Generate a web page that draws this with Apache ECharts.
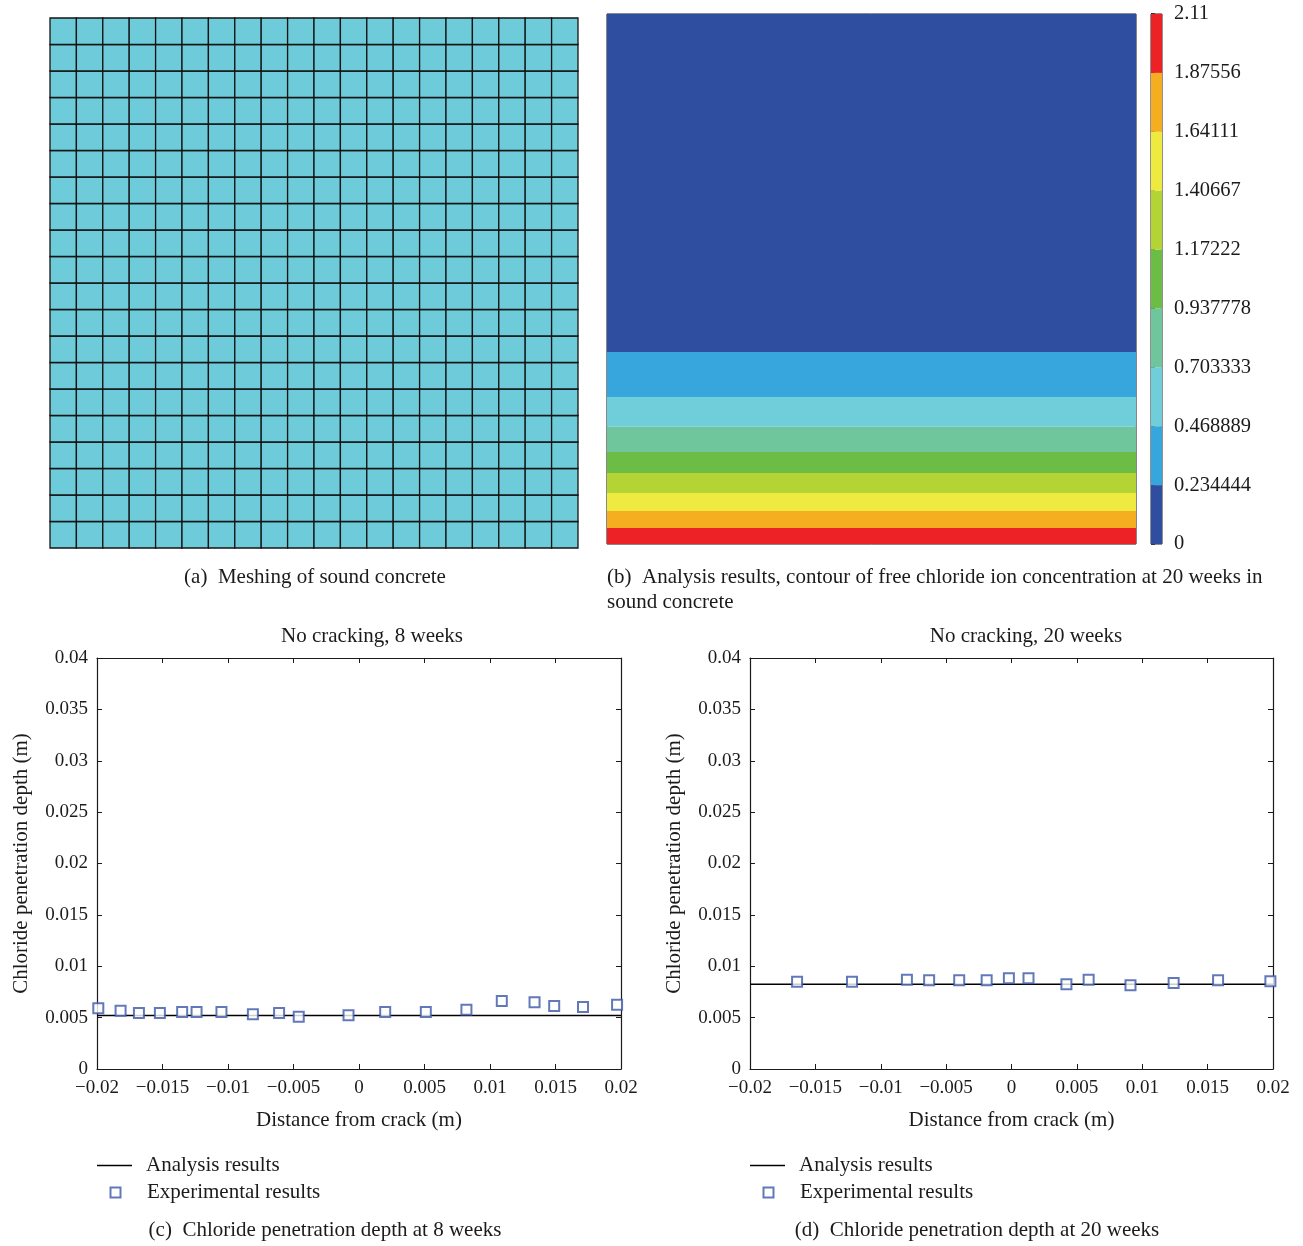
<!DOCTYPE html>
<html>
<head>
<meta charset="utf-8">
<title>Chloride penetration in sound concrete</title>
<script src="https://cdn.jsdelivr.net/npm/echarts@6/dist/echarts.min.js"></script>
<style>
  html, body { margin: 0; padding: 0; background: #ffffff; }
  #chart { width: 1303px; height: 1246px; }
</style>
</head>
<body>
<div id="chart"></div>
<script>
// ---- (a) finite element mesh: 20 x 20 square elements ----
const meshCols = 20;
const meshRows = 20;

// ---- (b) free chloride contour at 20 weeks ----
// contour level boundaries shown on the colour bar
const contourLevels = ['0', '0.234444', '0.468889', '0.703333', '0.937778',
  '1.17222', '1.40667', '1.64111', '1.87556', '2.11'];
const contourColors = ['#2f4ea0', '#37a6dd', '#70cdda', '#6fc69d', '#6cbd45',
  '#b4d334', '#eeea40', '#f5ae1f', '#ec2227'];
// depth (in element widths, measured from the exposed bottom face) where each band ends,
// listed from the highest concentration band (surface) to the lowest
const bandTopDepth = [0.60, 1.25, 1.92, 2.68, 3.47, 4.42, 5.55, 7.25, 20];
const bandLevel = [8, 7, 6, 5, 4, 3, 2, 1, 0];

// ---- (c) no cracking, 8 weeks ----
const analysis8 = [[-0.02, 0.0052], [0.02, 0.0052]];
const experiment8X = [-0.0199, -0.0182, -0.0168, -0.0152, -0.0135, -0.0124, -0.0105,
  -0.0081, -0.0061, -0.0046, -0.0008, 0.0020, 0.0051, 0.0082, 0.0109, 0.0134,
  0.0149, 0.0171, 0.0197];
const experiment8Y = [0.00591, 0.00567, 0.00545, 0.00545, 0.00555, 0.00555, 0.00555,
  0.00532, 0.00545, 0.00509, 0.00523, 0.00555, 0.00555, 0.00577, 0.00662, 0.00649,
  0.00613, 0.00603, 0.00626];

// ---- (d) no cracking, 20 weeks ----
const analysis20 = [[-0.02, 0.00824], [0.02, 0.00824]];
const experiment20X = [-0.0164, -0.0122, -0.0080, -0.0063, -0.0040, -0.0019, -0.0002,
  0.0013, 0.0042, 0.0059, 0.0091, 0.0124, 0.0158, 0.0198];
const experiment20Y = [0.00850, 0.00850, 0.00869, 0.00863, 0.00863, 0.00863, 0.00883,
  0.00883, 0.00824, 0.00869, 0.00815, 0.00837, 0.00863, 0.00854];

// axis ticks for the penetration plots
const distanceTicks = { min: -0.02, max: 0.02, step: 0.005 };
const depthTicks = { min: 0, max: 0.04, step: 0.005 };

// ---------------------------------------------------------------
const FONT = '"Liberation Serif", "DejaVu Serif", serif';
const INK = '#1c1a1b';
const FS_TICK = 19;
const FS_TEXT = 21;

function signedTick(v) {
  const a = +Math.abs(v).toFixed(4);
  return (v < -1e-12 ? '\u2212' : '') + String(a);
}

const meshData = [];
for (let i = 0; i < meshCols; i++) {
  for (let j = 0; j < meshRows; j++) meshData.push([i, j]);
}

const bandData = bandTopDepth.map((top, k) => [k === 0 ? 0 : bandTopDepth[k - 1], top, bandLevel[k]]);
const colorbarData = contourColors.map((c, k) => [k]);

const zip = (xs, ys) => xs.map((x, i) => [x, ys[i]]);

function hiddenAxis(gridIndex, min, max) {
  return { type: 'value', gridIndex, min, max, show: false };
}

function plotAxes(gridIndex) {
  const tickStyle = { show: true, inside: true, length: 5, lineStyle: { color: INK, width: 1 } };
  const lineStyle = { show: true, onZero: false, lineStyle: { color: INK, width: 1.2 } };
  const x = [
    {
      type: 'value', gridIndex, position: 'bottom',
      min: distanceTicks.min, max: distanceTicks.max, interval: distanceTicks.step,
      axisLine: lineStyle, axisTick: tickStyle, splitLine: { show: false },
      axisLabel: { formatter: signedTick, color: INK, fontFamily: FONT, fontSize: FS_TICK, margin: 10 },
      name: 'Distance from crack (m)', nameLocation: 'middle', nameGap: 41,
      nameTextStyle: { color: INK, fontFamily: FONT, fontSize: FS_TEXT }
    },
    {
      type: 'value', gridIndex, position: 'top',
      min: distanceTicks.min, max: distanceTicks.max, interval: distanceTicks.step,
      axisLine: lineStyle, axisTick: tickStyle, splitLine: { show: false },
      axisLabel: { show: false }
    }
  ];
  const y = [
    {
      type: 'value', gridIndex, position: 'left',
      min: depthTicks.min, max: depthTicks.max, interval: depthTicks.step,
      axisLine: lineStyle, axisTick: tickStyle, splitLine: { show: false },
      axisLabel: { formatter: signedTick, color: INK, fontFamily: FONT, fontSize: FS_TICK, margin: 9 },
      name: 'Chloride penetration depth (m)', nameLocation: 'middle', nameGap: 65,
      nameRotate: 90,
      nameTextStyle: { color: INK, fontFamily: FONT, fontSize: FS_TEXT }
    },
    {
      type: 'value', gridIndex, position: 'right',
      min: depthTicks.min, max: depthTicks.max, interval: depthTicks.step,
      axisLine: lineStyle, axisTick: tickStyle, splitLine: { show: false },
      axisLabel: { show: false }
    }
  ];
  return { x, y };
}

const axC = plotAxes(3);
const axD = plotAxes(4);

function text(x, y, str, align, lineHeight) {
  const style = {
    text: str, fill: INK, font: FS_TEXT + 'px ' + FONT,
    textAlign: align || 'center', textVerticalAlign: 'middle'
  };
  if (lineHeight) style.lineHeight = lineHeight;
  return { type: 'text', x, y, style };
}

// legend entries: a short line for the analysis curve, a small open square for the tests
function lineLegend(left) {
  return {
    orient: 'vertical', left, top: 1155, padding: 0,
    itemWidth: 35, itemHeight: 1.6, icon: 'rect', selectedMode: false,
    textStyle: { color: INK, fontFamily: FONT, fontSize: FS_TEXT, lineHeight: 20, padding: [0, 0, 0, 9] },
    data: ['Analysis results']
  };
}
function markerLegend(left) {
  return {
    orient: 'vertical', left: left + 12.5, top: 1182, padding: 0,
    itemWidth: 10, itemHeight: 10, selectedMode: false,
    textStyle: { color: INK, fontFamily: FONT, fontSize: FS_TEXT, lineHeight: 20, padding: [0, 0, 0, 21.5] },
    data: ['Experimental results']
  };
}

const expStyle = { color: '#3b58a8', borderWidth: 1.4 };

const option = {
  backgroundColor: '#ffffff',
  animation: false,
  grid: [
    { left: 50, top: 18, width: 528, height: 530 },
    { left: 607, top: 14, width: 529, height: 530, show: true, borderColor: '#111', borderWidth: 1 },
    { left: 1151, top: 14, width: 11, height: 530, show: true, borderColor: '#222', borderWidth: 1 },
    { left: 97, top: 658, width: 524, height: 411 },
    { left: 750, top: 658, width: 523, height: 411 }
  ],
  xAxis: [
    hiddenAxis(0, 0, meshCols),
    hiddenAxis(1, 0, 1),
    hiddenAxis(2, 0, 1),
    ...axC.x,
    ...axD.x
  ],
  yAxis: [
    hiddenAxis(0, 0, meshRows),
    hiddenAxis(1, 0, 20),
    {
      type: 'value', gridIndex: 2, position: 'right', min: 0, max: contourLevels.length - 1, interval: 1,
      axisLine: { show: false }, splitLine: { show: false },
      axisTick: { show: true, inside: false, length: 4, lineStyle: { color: INK, width: 1.5 } },
      axisLabel: {
        formatter: (v) => contourLevels[Math.round(v)], color: INK,
        fontFamily: FONT, fontSize: 20.5, margin: 12
      }
    },
    ...axC.y,
    ...axD.y
  ],
  legend: [lineLegend(97), markerLegend(97), lineLegend(750), markerLegend(750)],
  series: [
    {
      type: 'custom', xAxisIndex: 0, yAxisIndex: 0, data: meshData, silent: true,
      renderItem: (params, api) => {
        const p0 = api.coord([api.value(0), api.value(1) + 1]);
        const p1 = api.coord([api.value(0) + 1, api.value(1)]);
        return {
          type: 'rect',
          shape: { x: p0[0], y: p0[1], width: p1[0] - p0[0], height: p1[1] - p0[1] },
          style: { fill: '#6ecbd9', stroke: '#141414', lineWidth: 1.3 }
        };
      }
    },
    {
      type: 'custom', xAxisIndex: 1, yAxisIndex: 1, data: bandData, silent: true,
      renderItem: (params, api) => {
        const p0 = api.coord([0, api.value(1)]);
        const p1 = api.coord([1, api.value(0)]);
        return {
          type: 'rect',
          shape: { x: p0[0], y: p0[1], width: p1[0] - p0[0], height: p1[1] - p0[1] },
          style: { fill: contourColors[api.value(2)] }
        };
      }
    },
    {
      type: 'custom', xAxisIndex: 2, yAxisIndex: 2, data: colorbarData, silent: true,
      renderItem: (params, api) => {
        const k = api.value(0);
        const p0 = api.coord([0, k + 1]);
        const p1 = api.coord([1, k]);
        return {
          type: 'rect',
          shape: { x: p0[0], y: p0[1], width: p1[0] - p0[0], height: p1[1] - p0[1] },
          style: { fill: contourColors[k] }
        };
      }
    },
    {
      name: 'Analysis results', type: 'line', xAxisIndex: 3, yAxisIndex: 3,
      data: analysis8, symbol: 'none', lineStyle: { color: '#000', width: 1.5 },
      itemStyle: { color: '#000' }, z: 3
    },
    {
      name: 'Experimental results', type: 'scatter', xAxisIndex: 3, yAxisIndex: 3,
      data: zip(experiment8X, experiment8Y), symbol: 'emptyRect', symbolSize: 10,
      symbolKeepAspect: true, itemStyle: expStyle, z: 4
    },
    {
      name: 'Analysis results', type: 'line', xAxisIndex: 5, yAxisIndex: 5,
      data: analysis20, symbol: 'none', lineStyle: { color: '#000', width: 1.5 },
      itemStyle: { color: '#000' }, z: 3
    },
    {
      name: 'Experimental results', type: 'scatter', xAxisIndex: 5, yAxisIndex: 5,
      data: zip(experiment20X, experiment20Y), symbol: 'emptyRect', symbolSize: 10,
      symbolKeepAspect: true, itemStyle: expStyle, z: 4
    }
  ],
  graphic: [
    text(315, 577, '(a)  Meshing of sound concrete'),
    text(607, 589.5, '(b)  Analysis results, contour of free chloride ion concentration at 20 weeks in\nsound concrete', 'left', 25),
    text(372, 636, 'No cracking, 8 weeks'),
    text(1026, 636, 'No cracking, 20 weeks'),
    text(325, 1230, '(c)  Chloride penetration depth at 8 weeks'),
    text(977, 1230, '(d)  Chloride penetration depth at 20 weeks')
  ]
};

const chart = echarts.init(document.getElementById('chart'), null, { renderer: 'canvas' });
chart.setOption(option);
</script>
</body>
</html>
